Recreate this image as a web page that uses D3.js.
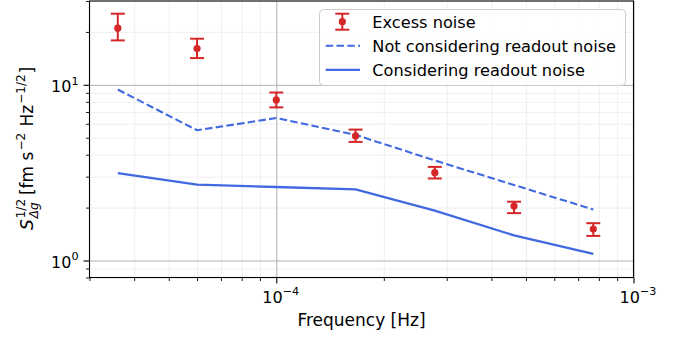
<!DOCTYPE html>
<html>
<head>
<meta charset="utf-8">
<script src="https://cdn.jsdelivr.net/npm/d3@7"></script>
<style>
  body { margin: 0; background: #fff; }
  svg text { font-family: "DejaVu Sans", sans-serif; fill: #000; }
</style>
</head>
<body>
<svg id="chart" width="679" height="339"></svg>
<script>
// Frequency bins [Hz]
const frequency = [3.6e-5, 6.0e-5, 1.0e-4, 1.667e-4, 2.778e-4, 4.63e-4, 7.716e-4];
// Excess noise ASD with error bounds [fm s^-2 Hz^-1/2]
const excessNoise = [21.0, 16.1, 8.2, 5.12, 3.16, 2.04, 1.51];
const excessLow   = [17.9, 14.2, 7.44, 4.73, 2.93, 1.86, 1.38];
const excessHigh  = [25.4, 18.3, 9.04, 5.56, 3.41, 2.16, 1.63];
// Model curves
const withoutReadout = [9.4, 5.51, 6.47, 5.19, 3.71, 2.69, 1.95];
const withReadout    = [3.14, 2.70, 2.62, 2.54, 1.92, 1.39, 1.09];
// Axis ticks (powers of ten)
const xTickExponents = [-4, -3];
const yTickExponents = [0, 1];
const legendLabels = ["Excess noise", "Not considering readout noise", "Considering readout noise"];

const RED = "#d62728", BLUE = "#4169e1";
const svg = d3.select("#chart");
const plot = { left: 89.5, right: 633.5, top: 1, bottom: 277.5 };

const x = d3.scaleLog().domain([3e-5, 1e-3]).range([plot.left, plot.right]);
const y = d3.scaleLog().domain([0.8, 30]).range([plot.bottom, plot.top]);

function minorTicks(scale) {
  const [d0, d1] = scale.domain();
  const out = [];
  for (let e = Math.floor(Math.log10(d0)); e <= Math.ceil(Math.log10(d1)); e++) {
    for (let k = 2; k <= 9; k++) {
      const v = k * Math.pow(10, e);
      if (v >= d0 * 0.9999 && v <= d1 * 1.0001) out.push(v);
    }
  }
  return out;
}
const xMajor = xTickExponents.map(e => Math.pow(10, e));
const yMajor = yTickExponents.map(e => Math.pow(10, e));
const xMinor = minorTicks(x);
const yMinor = minorTicks(y);
const innerH = plot.bottom - plot.top, innerW = plot.right - plot.left;

// Grid lines (minor first, then major)
function gridStyle(g, color, width) {
  g.select(".domain").remove();
  g.selectAll("text").remove();
  g.selectAll("line").attr("stroke", color).attr("stroke-width", width);
}
svg.append("g").attr("transform", `translate(0,${plot.bottom})`)
  .call(d3.axisBottom(x).tickValues(xMinor).tickSize(-innerH).tickFormat(""))
  .call(g => gridStyle(g, "#ebebeb", 0.8));
svg.append("g").attr("transform", `translate(${plot.left},0)`)
  .call(d3.axisLeft(y).tickValues(yMinor).tickSize(-innerW).tickFormat(""))
  .call(g => gridStyle(g, "#ebebeb", 0.8));
svg.append("g").attr("transform", `translate(0,${plot.bottom})`)
  .call(d3.axisBottom(x).tickValues(xMajor).tickSize(-innerH).tickFormat(""))
  .call(g => gridStyle(g, "#b0b0b0", 1));
svg.append("g").attr("transform", `translate(${plot.left},0)`)
  .call(d3.axisLeft(y).tickValues(yMajor).tickSize(-innerW).tickFormat(""))
  .call(g => gridStyle(g, "#b0b0b0", 1));

// Model curves
const line = d3.line().x(d => x(d[0])).y(d => y(d[1]));
svg.append("path")
  .datum(frequency.map((f, i) => [f, withoutReadout[i]]))
  .attr("d", line).attr("fill", "none").attr("stroke", BLUE)
  .attr("stroke-width", 2.1).attr("stroke-dasharray", "7.5,3.3");
svg.append("path")
  .datum(frequency.map((f, i) => [f, withReadout[i]]))
  .attr("d", line).attr("fill", "none").attr("stroke", BLUE)
  .attr("stroke-width", 2.3);

// Excess noise with error bars
const capHalf = 7;
const eb = svg.append("g").attr("stroke", RED).attr("stroke-width", 2);
frequency.forEach((f, i) => {
  const cx = x(f);
  eb.append("line").attr("x1", cx).attr("x2", cx).attr("y1", y(excessLow[i])).attr("y2", y(excessHigh[i]));
  eb.append("line").attr("x1", cx - capHalf).attr("x2", cx + capHalf).attr("y1", y(excessLow[i])).attr("y2", y(excessLow[i]));
  eb.append("line").attr("x1", cx - capHalf).attr("x2", cx + capHalf).attr("y1", y(excessHigh[i])).attr("y2", y(excessHigh[i]));
});
svg.append("g").selectAll("circle").data(frequency).join("circle")
  .attr("cx", d => x(d)).attr("cy", (d, i) => y(excessNoise[i]))
  .attr("r", 3.6).attr("fill", RED);

// Power-of-ten tick labels
function powerLabel(text, exp) {
  text.text(null);
  text.append("tspan").text("10");
  text.append("tspan").attr("dy", -7.5).attr("font-size", 11.2)
    .text(exp < 0 ? "\u2212" + (-exp) : String(exp));
}

// Axes with ticks
const xAxis = svg.append("g").attr("transform", `translate(0,${plot.bottom})`)
  .call(d3.axisBottom(x).tickValues(xMajor).tickSize(6).tickPadding(0).tickFormat(""));
xAxis.select(".domain").remove();
xAxis.selectAll(".tick line").attr("stroke", "#000").attr("stroke-width", 1.1);
xAxis.selectAll(".tick text").each(function (d) {
  const t = d3.select(this).attr("y", 25).attr("dy", null).attr("font-size", 16).attr("text-anchor", "middle");
  powerLabel(t, Math.round(Math.log10(d)));
  t.attr("dx", 4);
});
const xMinorAxis = svg.append("g").attr("transform", `translate(0,${plot.bottom})`)
  .call(d3.axisBottom(x).tickValues(xMinor).tickSize(3.5).tickFormat(""));
xMinorAxis.select(".domain").remove();
xMinorAxis.selectAll(".tick line").attr("stroke", "#000").attr("stroke-width", 0.9);

const yAxis = svg.append("g").attr("transform", `translate(${plot.left},0)`)
  .call(d3.axisLeft(y).tickValues(yMajor).tickSize(6).tickFormat(""));
yAxis.select(".domain").remove();
yAxis.selectAll(".tick line").attr("stroke", "#000").attr("stroke-width", 1.1);
yAxis.selectAll(".tick text").each(function (d) {
  const t = d3.select(this).attr("x", -11).attr("dy", null).attr("y", 7)
    .attr("font-size", 16).attr("text-anchor", "end");
  powerLabel(t, Math.round(Math.log10(d)));
});
const yMinorAxis = svg.append("g").attr("transform", `translate(${plot.left},0)`)
  .call(d3.axisLeft(y).tickValues(yMinor).tickSize(3.5).tickFormat(""));
yMinorAxis.select(".domain").remove();
yMinorAxis.selectAll(".tick line").attr("stroke", "#000").attr("stroke-width", 0.9);

// Spines
svg.append("rect")
  .attr("x", plot.left).attr("y", plot.top).attr("width", innerW).attr("height", innerH)
  .attr("fill", "none").attr("stroke", "#000").attr("stroke-width", 1.1);

// Axis titles
svg.append("text").attr("x", (plot.left + plot.right) / 2).attr("y", 326)
  .attr("text-anchor", "middle").attr("font-size", 17).text("Frequency [Hz]");

const FS = 17, SS = 12;
const ylab = svg.append("g").attr("transform", `translate(33,${(plot.top + plot.bottom) / 2}) rotate(-90)`);
const yl = ylab.append("text").attr("font-size", FS).attr("text-anchor", "start");
yl.append("tspan").attr("font-style", "italic").text("S");
yl.append("tspan").attr("font-size", SS).attr("dy", -8).attr("dx", 1).text("1/2");
// measure the superscript so the subscript can sit underneath it
const probe = svg.append("text").attr("font-size", SS).text("1/2");
const supW = probe.node().getComputedTextLength();
probe.remove();
yl.append("tspan").attr("font-size", SS).attr("font-style", "italic")
  .attr("dx", -supW).attr("dy", 12.5).text("\u0394g");
yl.append("tspan").attr("dy", -4.5).attr("dx", 2).text("\u00a0[fm s");
yl.append("tspan").attr("font-size", SS).attr("dy", -8).attr("dx", 1).text("\u22122");
yl.append("tspan").attr("dy", 8).attr("dx", 1).text("\u00a0Hz");
yl.append("tspan").attr("font-size", SS).attr("dy", -8).attr("dx", 1).text("\u22121/2");
yl.append("tspan").attr("dy", 8).attr("dx", 1).text("]");
const ylW = yl.node().getComputedTextLength();
yl.attr("x", -ylW / 2 - 3);

// Legend
const lg = svg.append("g");
lg.append("rect").attr("x", 319.5).attr("y", 9.5).attr("width", 306).attr("height", 76)
  .attr("rx", 4).attr("fill", "#fff").attr("fill-opacity", 0.85)
  .attr("stroke", "#cccccc").attr("stroke-width", 1);
const rows = [21.7, 45.7, 69.8];
const sx0 = 325.7, sx1 = 360, scx = 342.3;
// error bar sample
lg.append("line").attr("x1", scx).attr("x2", scx).attr("y1", rows[0] - 8).attr("y2", rows[0] + 8)
  .attr("stroke", RED).attr("stroke-width", 2);
[rows[0] - 8, rows[0] + 8].forEach(yy => lg.append("line")
  .attr("x1", scx - capHalf).attr("x2", scx + capHalf).attr("y1", yy).attr("y2", yy)
  .attr("stroke", RED).attr("stroke-width", 2));
lg.append("circle").attr("cx", scx).attr("cy", rows[0]).attr("r", 3.6).attr("fill", RED);
lg.append("line").attr("x1", sx0).attr("x2", sx1).attr("y1", rows[1]).attr("y2", rows[1])
  .attr("stroke", BLUE).attr("stroke-width", 2.1).attr("stroke-dasharray", "7.5,3.3");
lg.append("line").attr("x1", sx0).attr("x2", sx1).attr("y1", rows[2]).attr("y2", rows[2])
  .attr("stroke", BLUE).attr("stroke-width", 2.3);
legendLabels.forEach((lab, i) => {
  lg.append("text").attr("x", 372.3).attr("y", rows[i] + 5.8).attr("font-size", 16.2).text(lab);
});
</script>
</body>
</html>
